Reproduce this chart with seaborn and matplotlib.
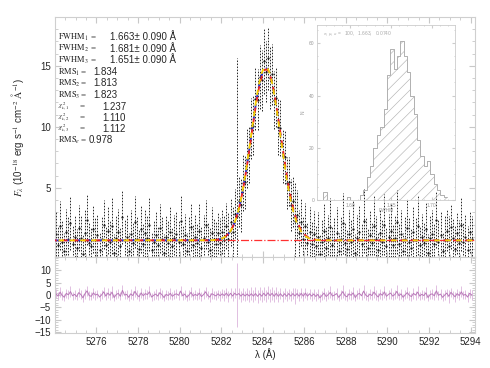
import numpy as np
import pandas as pd
import matplotlib
matplotlib.use("Agg")
import matplotlib.pyplot as plt
import seaborn as sns

sns.set_style("ticks")
plt.rcParams['font.family'] = ['Liberation Sans', 'DejaVu Sans']
plt.rcParams['mathtext.fontset'] = 'stix'
plt.rcParams['hatch.linewidth'] = 0.45

# ---------------- data ----------------
wave_start = 5274.05
wave_step = 0.1
flux = [
    1.2, 0.3, 1.9, 0.6, -0.2, 1.4, 0.8, 2.1, 0.4, 1.0,
    0.1, 1.7, 0.9, -0.4, 1.3, 2.4, 0.5, 0.2, 1.6, 0.7,
    1.1, -0.1, 0.8, 2.0, 0.3, 1.5, 0.6, 1.9, -0.3, 0.9,
    1.4, 0.2, 2.6, 0.7, 1.0, -0.2, 1.2, 0.5, 2.2, 0.8,
    0.0, 1.6, 0.4, 1.3, 0.9, 2.0, -0.1, 0.6, 1.1, 0.3,
    1.7, 0.8, -0.3, 1.0, 0.5, 1.4, 0.2, 0.9, 1.2, 0.6,
    2.3, 0.4, 1.1, -0.2, 0.7, 1.8, 0.3, 1.0, 0.5, 1.5,
    0.1, 0.9, 2.0, 0.6, -0.1, 1.3, 0.8, 0.4,
    1.3, 0.5, 1.4, 0.7, 1.9, 0.8, 2.2, 1.4, 2.9, 2.7,
    3.9, 3.6, 5.4, 5.5, 7.4, 7.7, 9.9, 10.1, 12.3, 12.2,
    14.1, 13.8, 15.4, 14.5, 15.6, 14.0, 14.3, 12.2, 12.4, 10.0,
    9.9, 7.6, 7.5, 5.4, 5.5, 3.6, 3.9, 2.3, 2.8, 1.3,
    2.2, 0.8, 1.9, 0.5, 1.4, 0.4, 1.2,
    0.2, 1.0, -0.4, 0.6, 1.5, 0.1, 0.9, 1.8, 0.3, 0.7,
    1.3, -0.2, 0.8, 2.1, 0.5, 0.0, 1.2, 0.6, 1.6, -0.3,
    0.9, 1.4, 0.4, 2.3, 0.7, 0.1, 1.1, 0.5, 1.9, 0.8,
    -0.1, 1.3, 0.6, 2.0, 0.2, 1.0, 1.5, 0.3, 0.9, 2.2,
    0.4, 1.2, -0.2, 0.8, 1.7, 0.6, 0.1, 1.4, 0.7, 1.9,
    0.3, 1.0, 0.5, 1.6, -0.3, 0.9, 1.2, 0.4, 2.4, 0.6,
    1.1, -0.2, 0.7, 1.5, 0.2, 1.8, 0.9, 0.0, 1.3, 0.5,
    2.0, 0.6, 1.0, -0.1, 1.4, 0.8,
]
flux_err = [
    1.8, 1.6, 2.0, 1.7, 1.5, 1.9, 1.8, 2.2, 1.6, 1.7,
    1.5, 1.9, 1.8, 1.6, 2.0, 2.1, 1.7, 1.6, 1.9, 1.8,
    1.7, 1.5, 1.8, 2.0, 1.6, 1.9, 1.7, 2.3, 1.5, 1.8,
    1.9, 1.6, 2.2, 1.7, 1.8, 1.5, 2.0, 1.7, 2.1, 1.8,
    1.6, 1.9, 1.7, 2.0, 1.8, 2.2, 1.5, 1.7, 1.9, 1.6,
    2.0, 1.8, 1.5, 1.7, 1.8, 2.1, 1.6, 1.9, 1.8, 1.7,
    2.1, 1.6, 1.8, 1.5, 1.9, 2.0, 1.7, 1.8, 1.6, 2.2,
    1.7, 1.9, 2.0, 1.6, 1.8, 2.1, 1.7, 1.8,
    1.7, 2.0, 1.8, 2.1, 1.9, 2.2, 2.0, 2.1, 2.0, 12.9,
    2.1, 2.2, 2.3, 2.2, 2.4, 2.3, 2.5, 2.4, 2.6, 2.5,
    2.6, 2.5, 2.7, 2.5, 2.6, 2.5, 2.5, 2.4, 2.4, 2.3,
    2.3, 2.2, 2.2, 2.1, 2.0, 2.1, 2.1, 3.2, 2.0, 1.9,
    2.0, 1.8, 1.9, 1.7, 2.0, 1.8, 1.9,
    1.7, 2.0, 1.6, 1.8, 2.2, 1.7, 1.9, 2.4, 1.6, 1.8,
    2.1, 1.5, 1.8, 2.5, 1.7, 1.6, 2.0, 1.8, 2.3, 1.5,
    1.9, 2.2, 1.7, 2.6, 1.8, 1.6, 2.1, 1.7, 2.4, 1.9,
    1.5, 2.0, 1.8, 2.5, 1.6, 1.9, 2.2, 1.7, 1.8, 2.6,
    1.7, 2.0, 1.5, 1.8, 2.3, 1.9, 1.6, 2.1, 1.8, 2.4,
    1.6, 1.9, 1.7, 2.2, 1.5, 1.8, 2.0, 1.7, 2.3, 1.8,
    1.9, 1.6, 2.1, 1.7, 2.5, 1.8, 1.6, 2.0, 1.7, 1.9,
    2.2, 1.6, 1.8, 2.0, 1.7, 1.9,
]
continuum = 0.7
fit_center = [5284.15, 5284.16, 5284.14]
fit_amp = [14.1, 14.0, 14.2]
fit_fwhm = [1.663, 1.681, 1.651]
fit_colors = ['#2233dd', '#ee2222', '#f5d000']

text_labels = [r'$\mathrm{FWHM}_1$', r'$\mathrm{FWHM}_2$', r'$\mathrm{FWHM}_3$',
               r'$\mathrm{RMS}_1$', r'$\mathrm{RMS}_2$', r'$\mathrm{RMS}_3$',
               r'$\chi^2_{\nu,1}$', r'$\chi^2_{\nu,2}$', r'$\chi^2_{\nu,3}$',
               r'$\mathrm{RMS}_e$']
text_values = ['1.663\u00b1 0.090 \u00c5', '1.681\u00b1 0.090 \u00c5', '1.651\u00b1 0.090 \u00c5',
               '1.834', '1.813', '1.823', '1.237', '1.110', '1.112', '0.978']

hist_start = 1.5630
hist_width = 0.0041
hist_counts = [0, 3, 0, 0, 0, 0, 0, 0, 1, 0, 0, 0,
               2, 4, 9, 13, 20, 25, 28, 35, 48, 58, 50, 55, 61,
               55, 49, 40, 33, 23, 17, 13, 15, 10, 6, 4, 2, 1]

# ---------------- derived ----------------
n = min(len(flux), len(flux_err))
flux = np.array(flux[:n])
flux_err = np.array(flux_err[:n])
wave = wave_start + wave_step * np.arange(n)


def gauss(x, c, a, fw):
    s = fw / 2.3548
    return continuum + a * np.exp(-0.5 * ((x - c) / s) ** 2)


fine = np.linspace(5274.0, 5294.2, 900)
resid = flux - gauss(wave, fit_center[0], fit_amp[0], fit_fwhm[0])

# ---------------- figure ----------------
fig = plt.figure(figsize=(4.9, 3.68), dpi=100)
ax1 = fig.add_axes([0.112, 0.302, 0.857, 0.652])
ax2 = fig.add_axes([0.112, 0.095, 0.857, 0.207], sharex=ax1)

frame_c = '#cfcfcf'
for ax in (ax1, ax2):
    for sp in ax.spines.values():
        sp.set_color(frame_c)
        sp.set_linewidth(0.8)
    ax.tick_params(which='both', direction='in', top=True, right=True,
                   color='#c8c8c8', labelsize=7, pad=3)
    ax.tick_params(which='major', length=4)
    ax.tick_params(which='minor', length=2)
    ax.minorticks_on()

eb = ax1.errorbar(wave, flux, yerr=flux_err, fmt='o', ms=0.6, color='#111111',
                  ecolor='#262626', elinewidth=0.7, capsize=0, zorder=2)
eb[2][0].set_linestyle((0, (1.6, 1.5)))

ax1.axhline(continuum, color='#ff3030', lw=0.9, ls='-.', zorder=3)
for i, (c, a, fw, col) in enumerate(zip(fit_center, fit_amp, fit_fwhm, fit_colors)):
    sns.lineplot(x=fine, y=gauss(fine, c, a, fw), ax=ax1, color=col, lw=1.3,
                 linestyle=(i * 2.0, (3, 3)), zorder=4 + i)

ax1.set_xlim(5274.0, 5294.2)
ax1.set_ylim(-0.65, 19.0)
ax1.set_yticks([5, 10, 15])
ax1.tick_params(labelbottom=False)
ax1.set_ylabel(r'$F_\lambda$ (10$^{-18}$ erg s$^{-1}$ cm$^{-2}$ $\mathrm{\AA}^{-1}$)',
               fontsize=7, labelpad=10)

# residual panel
ax2.errorbar(wave, resid, yerr=flux_err, fmt='none', ecolor='#dcb4dc',
             elinewidth=0.6, capsize=0, zorder=1)
sns.lineplot(x=wave, y=resid, ax=ax2, color='#b878b8', lw=0.7, zorder=2)
ax2.set_ylim(-15.3, 15.4)
ax2.set_yticks([-15, -10, -5, 0, 5, 10])
ax2.set_xticks(np.arange(5276, 5295, 2))
ax2.set_xlabel('\u03bb (\u00c5)', fontsize=7, labelpad=1)

# text block
ys = [37, 48.5, 60, 72, 83, 95, 106.5, 117.5, 128.5, 140]
val_x = [110, 110, 110, 93, 93, 93, 102, 102, 102, 89]
eq_x = [91, 91, 91, 81, 81, 81, 80, 80, 80, 81]
label_fs = [6, 6, 6, 6, 6, 6, 4.8, 4.8, 4.8, 6]
for lab, val, y, vx, ex, fs in zip(text_labels, text_values, ys, val_x, eq_x, label_fs):
    fig.text(58 / 490, 1 - y / 368, lab, fontsize=fs, va='center', ha='left')
    fig.text(ex / 490, 1 - y / 368, '=', fontsize=6.5, va='center', ha='left',
             family='Liberation Serif')
    fig.text(vx / 490, 1 - y / 368, val, fontsize=7, va='center', ha='left')

# inset histogram
axi = fig.add_axes([0.647, 0.4565, 0.282, 0.4755])
axi.patch.set_alpha(0)
edges = hist_start + hist_width * np.arange(len(hist_counts) + 1)
centers = 0.5 * (edges[:-1] + edges[1:])
hist_df = pd.DataFrame({'fwhm': centers, 'count': np.array(hist_counts, dtype=float)})
sns.histplot(data=hist_df, x='fwhm', weights='count', bins=list(edges), element='step',
             fill=True, ax=axi, color='#b0b0b0', linewidth=0.0)
for coll in axi.collections:
    coll.set_facecolor('none')
    coll.set_edgecolor('#b4b4b4')
    coll.set_hatch('///')
    coll.set_linewidth(0.0)
sns.histplot(data=hist_df, x='fwhm', weights='count', bins=list(edges), element='step',
             fill=False, ax=axi, color='#b0b0b0', linewidth=0.7)
axi.set_xlim(1.5596, 1.7286)
axi.set_ylim(0, 67)
axi.set_xticks([1.60, 1.65, 1.70])
axi.set_xticklabels(['1.60', '1.65', '1.70'])
axi.set_yticks([0, 20, 40, 60])
axi.set_xlabel('FWHM', fontsize=3.5, color='#999999', labelpad=0)
axi.set_ylabel('N', fontsize=3.5, color='#999999', labelpad=2)
for sp in axi.spines.values():
    sp.set_color('#cccccc')
    sp.set_linewidth(0.6)
axi.tick_params(which='both', direction='in', top=True, right=True, color='#cccccc',
                labelsize=3.5, labelcolor='#999999', pad=2, length=2)
axi.minorticks_on()
axi.tick_params(which='minor', length=1)
axi.text(0.04, 0.975, r'$\sigma$, $\mu$, $a$ =   100,   1.663,   0.0740',
         transform=axi.transAxes, fontsize=3.5, color='#aaaaaa', va='top')

fig.savefig('out.png', dpi=100)
